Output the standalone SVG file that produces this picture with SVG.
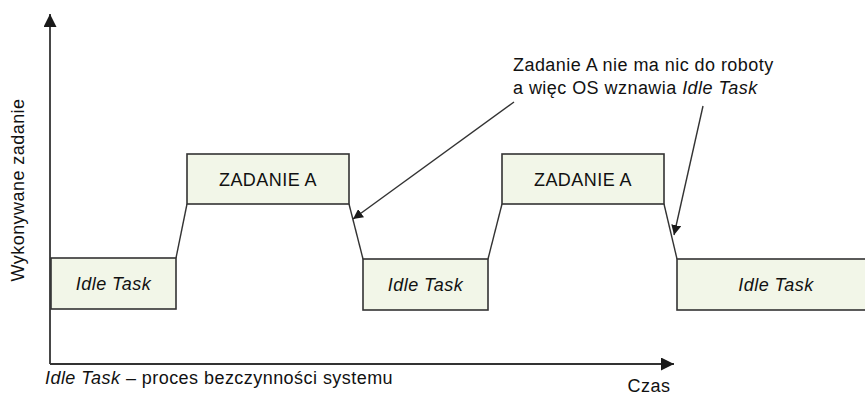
<svg xmlns="http://www.w3.org/2000/svg" width="865" height="399" viewBox="0 0 865 399">
<style>
.box{fill:#f2f6e8;stroke:#333;stroke-width:1.6}
.ln{stroke:#333;stroke-width:1.4;fill:none}
.ax{stroke:#333;stroke-width:1.8;fill:none}
.t{font-family:"Liberation Sans",Arial,sans-serif;font-size:18px;letter-spacing:0.45px;fill:#111}
.i{font-style:italic}
</style>
<defs>
<marker id="ah" viewBox="0 0 10 10" refX="10" refY="5" markerWidth="10" markerHeight="10" markerUnits="userSpaceOnUse" orient="auto"><path d="M0,0 L10,5 L0,10 z" fill="#1a1a1a"/></marker>
<marker id="axh" viewBox="0 0 12 12" refX="12" refY="6" markerWidth="13" markerHeight="13" markerUnits="userSpaceOnUse" orient="auto"><path d="M0,0 L12,6 L0,12 z" fill="#1a1a1a"/></marker>
</defs>
<g id="axes">
<path class="ax" d="M50,364 V14" marker-end="url(#axh)"/>
<path class="ax" d="M50,364 H674" marker-end="url(#axh)"/>
<text class="t" transform="translate(24,190) rotate(-90)" text-anchor="middle">Wykonywane zadanie</text>
<text class="t" x="649" y="392" text-anchor="middle">Czas</text>
<text class="t" x="45" y="384"><tspan class="i">Idle Task</tspan> – proces bezczynności systemu</text>
</g>
<g id="connectors">
<path class="ln" d="M176,258 L187,204"/>
<path class="ln" d="M349,204 L363,259"/>
<path class="ln" d="M488,259 L502,204"/>
<path class="ln" d="M664,204 L677,259"/>
<path class="ln" d="M514,102 L353,219" marker-end="url(#ah)"/>
<path class="ln" d="M703,106 L674,235" marker-end="url(#ah)"/>
</g>
<g id="idle1"><rect class="box" x="51" y="258" width="125" height="51"/><text class="t i" x="113.5" y="290" text-anchor="middle">Idle Task</text></g>
<g id="zadanie1"><rect class="box" x="187" y="154" width="162" height="50"/><text class="t" x="268" y="186" text-anchor="middle">ZADANIE A</text></g>
<g id="idle2"><rect class="box" x="363" y="259" width="125" height="51"/><text class="t i" x="425.5" y="291" text-anchor="middle">Idle Task</text></g>
<g id="zadanie2"><rect class="box" x="502" y="154" width="162" height="50"/><text class="t" x="583" y="186" text-anchor="middle">ZADANIE A</text></g>
<g id="idle3"><rect class="box" x="677" y="259" width="200" height="51"/><text class="t i" x="776" y="291" text-anchor="middle">Idle Task</text></g>
<g id="note"><text class="t" x="513" y="71">Zadanie A nie ma nic do roboty</text><text class="t" x="513" y="94">a więc OS wznawia <tspan class="i">Idle Task</tspan></text></g>
</svg>
